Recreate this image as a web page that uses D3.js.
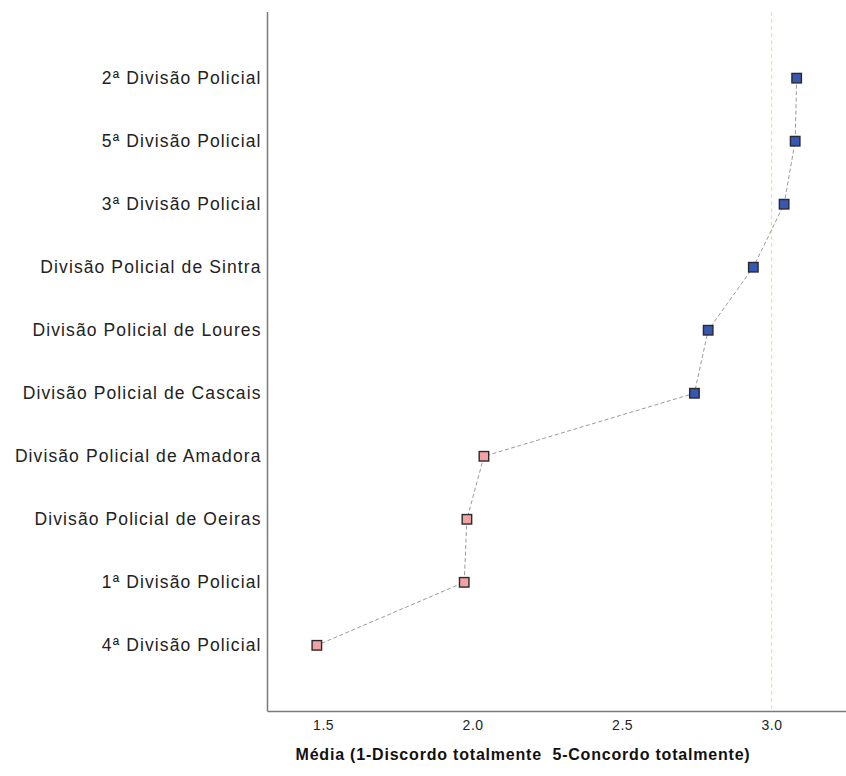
<!DOCTYPE html>
<html>
<head>
<meta charset="utf-8">
<script src="https://cdn.jsdelivr.net/npm/d3@7"></script>
<style>
  html, body { margin: 0; padding: 0; background: #fff; }
  svg { display: block; }
</style>
</head>
<body>
<svg id="chart" width="846" height="776"></svg>
<script>
const categories = [
  "2ª Divisão Policial",
  "5ª Divisão Policial",
  "3ª Divisão Policial",
  "Divisão Policial de Sintra",
  "Divisão Policial de Loures",
  "Divisão Policial de Cascais",
  "Divisão Policial de Amadora",
  "Divisão Policial de Oeiras",
  "1ª Divisão Policial",
  "4ª Divisão Policial"
];
const means = [3.084, 3.079, 3.042, 2.939, 2.788, 2.742, 2.038, 1.981, 1.972, 1.479];
const groups = ["high","high","high","high","high","high","low","low","low","low"];
const xTicks = [1.5, 2.0, 2.5, 3.0];
const referenceValue = 3.0;
const xTitle = "Média (1-Discordo totalmente  5-Concordo totalmente)";

(function () {
const data = categories.map((c, i) => ({ cat: c, v: means[i], g: groups[i] }));

const svg = d3.select("#chart");
const pLeft = 267.5, pRight = 846, pTop = 12, pBottom = 711.5;
const font = "'Liberation Sans', Arial, sans-serif";

const x = d3.scaleLinear().domain([1.314, 3.249]).range([pLeft, pRight]);
const y = d3.scalePoint().domain(categories).range([pTop, pBottom]).padding(1.05);
const color = d3.scaleOrdinal().domain(["high","low"]).range(["#3658b4", "#f2a2a2"]);

// reference line
svg.append("line")
  .attr("x1", x(referenceValue)).attr("x2", x(referenceValue))
  .attr("y1", pTop).attr("y2", pBottom)
  .attr("stroke", "#ece0b8").attr("stroke-width", 1.3)
  .attr("stroke-dasharray", "4,3");

// connecting line
svg.append("path")
  .datum(data)
  .attr("fill", "none")
  .attr("stroke", "#9a9a9a")
  .attr("stroke-width", 1)
  .attr("stroke-dasharray", "4,2.5")
  .attr("d", d3.line().x(d => x(d.v)).y(d => y(d.cat)));

// axes
const yAxis = d3.axisLeft(y).tickSize(0).tickPadding(6);
const gy = svg.append("g").attr("transform", `translate(${pLeft},0)`).call(yAxis);
gy.select(".domain").attr("stroke", "#7a7a7a").attr("stroke-width", 1.5)
  .attr("d", `M0,${pTop}V${pBottom}`);
gy.selectAll("text").attr("font-family", font)
  .attr("font-size", 17.5).attr("letter-spacing", "1.1px").attr("fill", "#222");

const xAxis = d3.axisBottom(x).tickValues(xTicks).tickFormat(d3.format(".1f")).tickSize(0).tickPadding(9);
const gx = svg.append("g").attr("transform", `translate(0,${pBottom})`).call(xAxis);
gx.select(".domain").attr("stroke", "#7a7a7a").attr("stroke-width", 1.5)
  .attr("d", `M${pLeft},0H${pRight}`);
gx.selectAll("text").attr("font-family", font)
  .attr("font-size", 14).attr("letter-spacing", "0.5px").attr("fill", "#222");

// markers
const s = 9.5;
svg.append("g").selectAll("rect")
  .data(data).join("rect")
  .attr("x", d => x(d.v) - s / 2)
  .attr("y", d => y(d.cat) - s / 2)
  .attr("width", s).attr("height", s)
  .attr("fill", d => color(d.g))
  .attr("stroke", "#2a2a2a").attr("stroke-width", 1.4);

// title
svg.append("text")
  .attr("x", 523).attr("y", 760)
  .attr("text-anchor", "middle")
  .attr("font-family", font)
  .attr("font-weight", "bold").attr("font-size", 16)
  .attr("letter-spacing", "0.8px")
  .style("white-space", "pre")
  .attr("fill", "#111")
  .text(xTitle);
})();
</script>
</body>
</html>
